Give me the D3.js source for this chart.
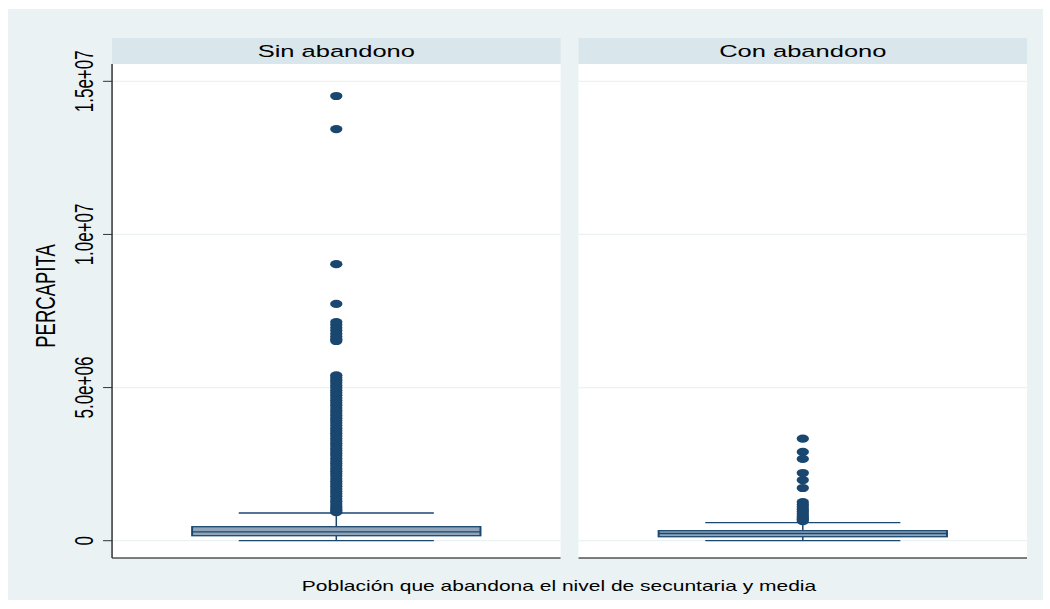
<!DOCTYPE html>
<html>
<head>
<meta charset="utf-8">
<script src="https://cdn.jsdelivr.net/npm/d3@7"></script>
<style>
  body { margin: 0; background: #fff; }
  svg { display: block; font-family: "Liberation Sans", Arial, Helvetica, sans-serif; }
</style>
</head>
<body>
<div id="chart"></div>
<script>
// panels (facets)
const groups = ['Sin abandono', 'Con abandono'];

// box plot summaries
const lowerWhisker = [0, 0];
const q1 = [163000, 130000];
const median = [290000, 235000];
const q3 = [457000, 327000];
const upperWhisker = [905000, 588000];

// outside values
const outliersSin = [
  14520000, 13440000, 9030000, 7730000,
  7140000, 7050000, 6950000, 6860000, 6760000, 6660000, 6580000, 6520000,
  5400000, 5320000, 5240000, 5160000, 5070000, 4990000, 4910000, 4830000,
  4750000, 4660000, 4580000, 4500000, 4420000, 4330000, 4250000, 4170000,
  4090000, 4000000, 3920000, 3840000, 3760000, 3670000, 3590000, 3510000,
  3430000, 3340000, 3260000, 3180000, 3100000, 3010000, 2930000, 2850000,
  2770000, 2680000, 2600000, 2520000, 2440000, 2350000, 2270000, 2190000,
  2110000, 2020000, 1940000, 1860000, 1780000, 1690000, 1610000, 1530000,
  1450000, 1360000, 1280000, 1200000, 1120000, 1050000, 990000, 930000,
];
const outliersCon = [
  3330000, 2900000, 2670000, 2210000, 1980000, 1720000,
  1260000, 1180000, 1100000, 1020000, 950000, 880000, 810000, 750000, 700000, 640000,
];

const yTicks = [0, 5000000, 10000000, 15000000];
const yTickLabels = ['0', '5.0e+06', '1.0e+07', '1.5e+07'];

const outliers = [outliersSin, outliersCon];

// the picture is drawn in a 700 wide space and stretched to 1050
const W = 700;
const H = 609;
const plotTop = 64;
const plotBottom = 558;
const stripTop = 38;

const navy = '#1a476f';

const svg = d3.select('#chart').append('svg')
  .attr('width', 1050)
  .attr('height', H)
  .attr('viewBox', `0 0 ${W} ${H}`)
  .attr('preserveAspectRatio', 'none');

svg.append('rect')
  .attr('x', 5.3).attr('y', 9)
  .attr('width', 690).attr('height', 591)
  .attr('fill', '#eaf2f3');

const x = d3.scaleBand()
  .domain(groups)
  .range([74.7, 684.7])
  .paddingInner(0.0386);

const y = d3.scaleLinear()
  .domain([0, 15000000])
  .range([540.7, 81.3]);

const bw = x.bandwidth();
const boxW = bw * 0.643;
const capW = bw * 0.435;

const panel = svg.selectAll('.panel')
  .data(groups)
  .enter()
  .append('g')
  .attr('class', 'panel')
  .attr('transform', (d) => `translate(${x(d)},0)`);

// strip
panel.append('rect')
  .attr('y', stripTop)
  .attr('width', bw)
  .attr('height', plotTop - stripTop)
  .attr('fill', '#d9e6eb');

panel.append('text')
  .attr('x', bw / 2)
  .attr('y', 57)
  .attr('text-anchor', 'middle')
  .attr('font-size', 17)
  .attr('fill', '#000')
  .text((d) => d);

// plot region
panel.append('rect')
  .attr('y', plotTop)
  .attr('width', bw)
  .attr('height', plotBottom - plotTop)
  .attr('fill', '#fff');

// grid lines
panel.selectAll('.grid')
  .data(yTicks)
  .enter()
  .append('line')
  .attr('x1', 0)
  .attr('x2', bw)
  .attr('y1', (d) => y(d))
  .attr('y2', (d) => y(d))
  .attr('stroke', '#eaf2f3')
  .attr('stroke-width', 1.2);

// x axis line
panel.append('line')
  .attr('x1', 0).attr('x2', bw)
  .attr('y1', plotBottom).attr('y2', plotBottom)
  .attr('stroke', '#000')
  .attr('stroke-width', 1);

// boxes
const cx = bw / 2;
panel.each(function (d, i) {
  const g = d3.select(this);

  // whiskers
  g.append('line')
    .attr('x1', cx).attr('x2', cx)
    .attr('y1', y(q3[i])).attr('y2', y(upperWhisker[i]))
    .attr('stroke', navy).attr('stroke-width', 1);
  g.append('line')
    .attr('x1', cx).attr('x2', cx)
    .attr('y1', y(q1[i])).attr('y2', y(lowerWhisker[i]))
    .attr('stroke', navy).attr('stroke-width', 1);
  [upperWhisker[i], lowerWhisker[i]].forEach((v) => {
    g.append('line')
      .attr('x1', cx - capW / 2).attr('x2', cx + capW / 2)
      .attr('y1', y(v)).attr('y2', y(v))
      .attr('stroke', navy).attr('stroke-width', 1.3);
  });

  g.append('rect')
    .attr('x', cx - boxW / 2)
    .attr('y', y(q3[i]))
    .attr('width', boxW)
    .attr('height', y(q1[i]) - y(q3[i]))
    .attr('fill', '#90a5ba')
    .attr('stroke', navy)
    .attr('stroke-width', 1.3);

  g.append('line')
    .attr('x1', cx - boxW / 2).attr('x2', cx + boxW / 2)
    .attr('y1', y(median[i])).attr('y2', y(median[i]))
    .attr('stroke', navy).attr('stroke-width', 1.3);

  g.selectAll('.dot')
    .data(outliers[i])
    .enter()
    .append('circle')
    .attr('cx', cx)
    .attr('cy', (v) => y(v))
    .attr('r', 4.1)
    .attr('fill', navy);
});

// y axis
const yAxisX = x(groups[0]);
svg.append('line')
  .attr('x1', yAxisX).attr('x2', yAxisX)
  .attr('y1', plotTop).attr('y2', plotBottom)
  .attr('stroke', '#333')
  .attr('stroke-width', 1);

svg.selectAll('.ytick')
  .data(yTicks)
  .enter()
  .append('line')
  .attr('x1', yAxisX - 6).attr('x2', yAxisX)
  .attr('y1', (d) => y(d)).attr('y2', (d) => y(d))
  .attr('stroke', '#333')
  .attr('stroke-width', 1);

svg.selectAll('.ylab')
  .data(yTicks)
  .enter()
  .append('text')
  .attr('transform', (d) => `translate(62,${y(d)}) rotate(-90)`)
  .attr('text-anchor', 'middle')
  .attr('font-size', 17)
  .attr('fill', '#000')
  .text((d, i) => yTickLabels[i]);

svg.append('text')
  .attr('transform', 'translate(36.7,296) rotate(-90)')
  .attr('text-anchor', 'middle')
  .attr('font-size', 18.5)
  .attr('fill', '#000')
  .text('PERCAPITA');

svg.append('text')
  .attr('x', (301 + 817) / 2 / 1.5)
  .attr('y', 591.5)
  .attr('text-anchor', 'middle')
  .attr('font-size', 14)
  .attr('fill', '#000')
  .text('Población que abandona el nivel de secuntaria y media');
</script>
</body>
</html>
